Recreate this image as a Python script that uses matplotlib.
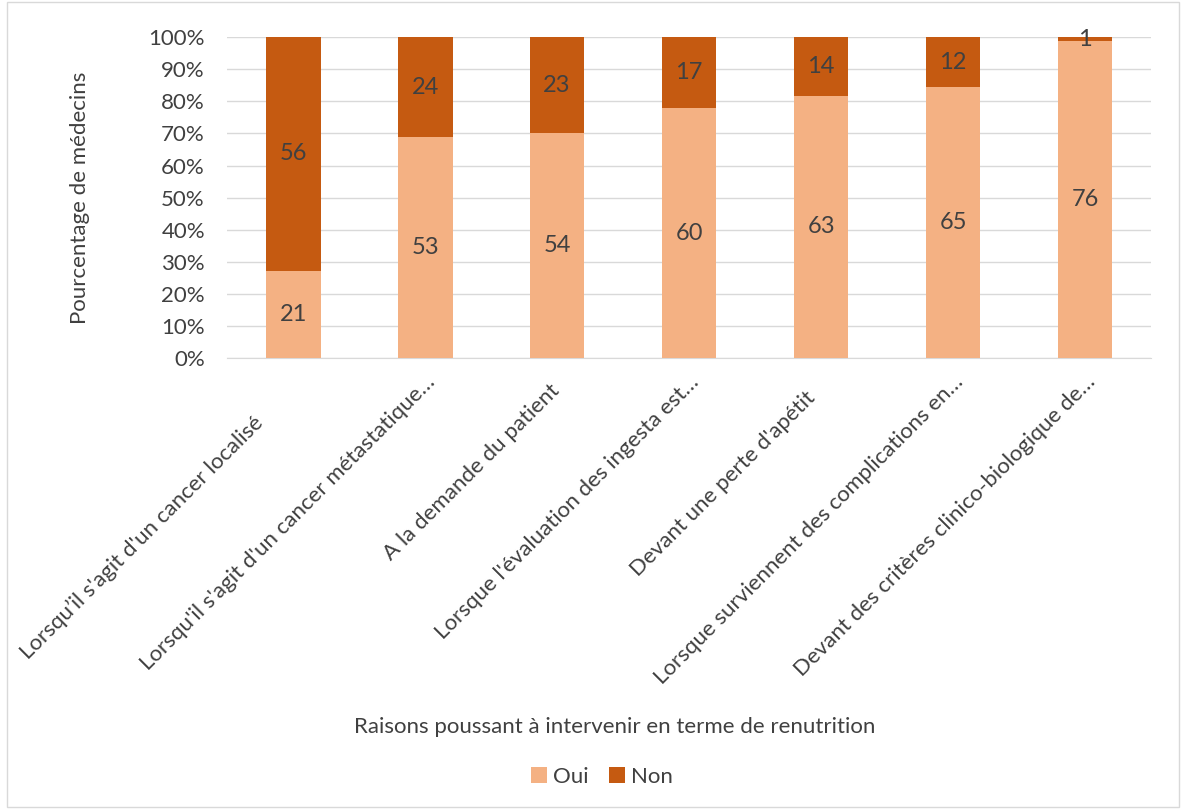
import matplotlib
matplotlib.use("Agg")
import matplotlib.pyplot as plt
import numpy as np
from matplotlib.patches import Rectangle
from matplotlib.ticker import PercentFormatter

# ── données ───────────────────────────────────────────────────────────────────
# (certains libellés d'origine se terminent par des espaces)
categories = [
    "Lorsqu\u2019il s'agit d'un cancer localisé          ",
    "Lorsqu'il s'agit d'un cancer métastatique\u2026",
    "A la demande du patient  ",
    "Lorsque l'évaluation des ingesta est\u2026",
    "Devant une perte d'apétit    ",
    "Lorsque surviennent des complications en\u2026",
    "Devant des critères clinico-biologique de\u2026",
]
oui = [21, 53, 54, 60, 63, 65, 76]
non = [56, 24, 23, 17, 14, 12, 1]
yticks = [0, 10, 20, 30, 40, 50, 60, 70, 80, 90, 100]

C_OUI = "#F4B183"
C_NON = "#C55A11"
TXT = "#404040"
FS = 16

plt.rcParams["font.family"] = ["Lato", "DejaVu Sans"]

oui_a = np.array(oui, dtype=float)
non_a = np.array(non, dtype=float)
tot = oui_a + non_a
p_oui = oui_a / tot * 100
p_non = non_a / tot * 100

fig = plt.figure(figsize=(11.83, 8.09), dpi=100)
ax = fig.add_axes([0.192, 0.5575, 0.781, 0.3965])

x = np.arange(len(categories))
w = 0.415
b1 = ax.bar(x, p_oui, w, color=C_OUI, label="Oui", zorder=3)
b2 = ax.bar(x, p_non, w, bottom=p_oui, color=C_NON, label="Non", zorder=3)

for bars, vals, bottoms in [(b1, oui, np.zeros(len(x))), (b2, non, p_oui)]:
    for bar, v, b in zip(bars, vals, bottoms):
        ax.text(bar.get_x() + bar.get_width() / 2, b + bar.get_height() / 2,
                str(v), ha="center", va="center", fontsize=17, color=TXT, zorder=4)

ax.set_xlim(-0.5, len(categories) - 0.5)
ax.set_ylim(0, 100)
ax.set_yticks(yticks)
ax.yaxis.set_major_formatter(PercentFormatter(decimals=0))
ax.grid(axis="y", color="#d9d9d9", linewidth=1, zorder=0)
for s in ["top", "right", "left"]:
    ax.spines[s].set_visible(False)
ax.spines["bottom"].set_color("#d9d9d9")
ax.tick_params(axis="both", length=0, colors=TXT, labelsize=FS)
ax.tick_params(axis="y", pad=16)
ax.set_xticks(x)
ax.set_xticklabels(categories, rotation=45, ha="right", va="top",
                   rotation_mode="anchor", fontsize=FS, color=TXT)
ax.tick_params(axis="x", pad=10)

ax.set_ylabel("Pourcentage de médecins", fontsize=FS, color=TXT)
ax.yaxis.set_label_coords(-0.159, 0.5)
ax.yaxis.label.set_va("center")
fig.text(0.52, 0.101, "Raisons poussant à intervenir en terme de renutrition",
         ha="center", va="center", fontsize=FS, color=TXT)

fig.legend(handles=[b1, b2], loc="center", bbox_to_anchor=(0.509, 0.04), ncol=2,
           frameon=False, fontsize=FS, handlelength=0.7, handleheight=0.7,
           handletextpad=0.3, columnspacing=0.9, labelcolor=TXT)

fig.patches.append(Rectangle((0.006, 0.002), 0.991, 0.996, transform=fig.transFigure,
                             fill=False, edgecolor="#d9d9d9", linewidth=1))

fig.savefig("out.png", dpi=100)
